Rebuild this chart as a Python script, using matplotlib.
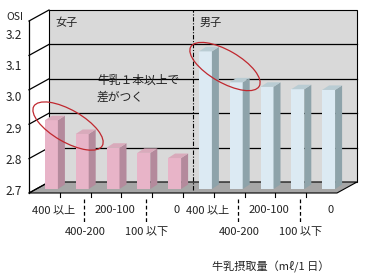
import matplotlib
matplotlib.use("Agg")
import matplotlib.pyplot as plt
from matplotlib.patches import Polygon, Ellipse
import matplotlib.transforms as transforms

plt.rcParams['font.family'] = ['Noto Sans CJK JP', 'DejaVu Sans']

# Données (OSI moyen par consommation de lait)
categories = ["400 以上", "400-200", "200-100", "100 以下", "0"]
groupes = ["女子", "男子"]
osi_filles = [2.90, 2.86, 2.82, 2.805, 2.79]
osi_garcons = [3.10, 3.01, 2.997, 2.99, 2.988]
y_ticks = [2.7, 2.8, 2.9, 3.0, 3.1, 3.2]
annotation = "牛乳１本以上で\n差がつく"
xlabel = "牛乳摂取量（mℓ/1 日）"

# Figure 366x280 px
W, H = 366, 280
fig = plt.figure(figsize=(W / 100, H / 100), dpi=100)

# axes = plan des barres (pixels: x 36..344, y 189..17)
ax = fig.add_axes([36 / W, (H - 189) / H, 308 / W, 172 / H])
n = len(categories) * 2
ax.set_xlim(-0.5, n - 0.5)
ax.set_ylim(y_ticks[0], y_ticks[-1])
ax.axis('off')

px_x = 308 / n                          # px par catégorie
px_y = 172 / (y_ticks[-1] - y_ticks[0])  # px par unité OSI


def dx(p):
    return p / px_x


def dy(p):
    return p / px_y


# décalages de profondeur (droite, haut) en pixels
BACK = (13, 7)
FRONT = (-7, -4)
DEPTH = (7, 4.5)

y0, y1 = y_ticks[0], y_ticks[-1]
xl, xr = -0.5, n - 0.5

# mur du fond
mur = Polygon([(xl + dx(BACK[0]), y0 + dy(BACK[1])), (xr + dx(BACK[0]), y0 + dy(BACK[1])),
               (xr + dx(BACK[0]), y1 + dy(BACK[1])), (xl + dx(BACK[0]), y1 + dy(BACK[1]))],
              closed=True, facecolor='#d9d9d9', edgecolor='black', lw=0.8, zorder=1,
              clip_on=False)
ax.add_patch(mur)
for v in y_ticks[1:-1]:
    ax.plot([xl + dx(BACK[0]), xr + dx(BACK[0])], [v + dy(BACK[1])] * 2,
            color='black', lw=0.9, zorder=1.2, clip_on=False)

# sol
sol = Polygon([(xl + dx(FRONT[0]), y0 + dy(FRONT[1])), (xr + dx(FRONT[0]), y0 + dy(FRONT[1])),
               (xr + dx(BACK[0]), y0 + dy(BACK[1])), (xl + dx(BACK[0]), y0 + dy(BACK[1]))],
              closed=True, facecolor='#a6a6a6', edgecolor='black', lw=0.8, zorder=1.5,
              clip_on=False)
ax.add_patch(sol)

# axe gauche + diagonales
ax.plot([xl + dx(FRONT[0])] * 2, [y0 + dy(FRONT[1]), y1 + dy(FRONT[1])],
        color='black', lw=0.9, zorder=2, clip_on=False)
for v in y_ticks:
    ax.plot([xl + dx(FRONT[0]), xl + dx(BACK[0])], [v + dy(FRONT[1]), v + dy(BACK[1])],
            color='black', lw=0.9, zorder=2, clip_on=False)

# petites graduations sur le bord avant
for b in range(1, n):
    xb = b - 0.5 + dx(FRONT[0])
    ax.plot([xb, xb], [y0 + dy(FRONT[1]), y0 + dy(FRONT[1] - 4)],
            color='black', lw=0.8, zorder=2, clip_on=False)

# séparateur filles / garçons
xs = len(categories) - 0.5 + dx(3)
ax.plot([xs, xs], [y0 - dy(1), y1 + dy(BACK[1])], color='black', lw=0.8,
        ls=(0, (4, 1.5, 1, 1.5)), zorder=2, clip_on=False)

# barres
valeurs = osi_filles + osi_garcons
couleurs = [('#e8b4c8', '#b48a9c', '#d9aabb')] * len(osi_filles) + \
           [('#dceaf3', '#8ea3aa', '#b9ccd3')] * len(osi_garcons)
w = 13 / px_x
pos = list(range(n))
ax.bar(pos, [v - y0 for v in valeurs], bottom=y0, width=w,
       color=[c[0] for c in couleurs], zorder=3, clip_on=False)
for x, v, c in zip(pos, valeurs, couleurs):
    xr_b = x + w / 2
    xl_b = x - w / 2
    cote = Polygon([(xr_b, y0), (xr_b, v), (xr_b + dx(DEPTH[0]), v + dy(DEPTH[1])),
                    (xr_b + dx(DEPTH[0]), y0 + dy(DEPTH[1]))],
                   closed=True, facecolor=c[1], edgecolor='none', zorder=3, clip_on=False)
    dessus = Polygon([(xl_b, v), (xr_b, v), (xr_b + dx(DEPTH[0]), v + dy(DEPTH[1])),
                      (xl_b + dx(DEPTH[0]), v + dy(DEPTH[1]))],
                     closed=True, facecolor=c[2], edgecolor='none', zorder=3, clip_on=False)
    ax.add_patch(cote)
    ax.add_patch(dessus)

# étiquettes des catégories (deux rangées, pour chaque groupe)
txt = '#222222'
for g in range(len(groupes)):
    for k, lab in enumerate(categories):
        i = g * len(categories) + k
        if k % 2 == 0:
            ax.text(i + dx(2), y0 - dy(21), lab, ha='center', va='center', fontsize=8,
                    color=txt, clip_on=False)
        else:
            ax.text(i + dx(3), y0 - dy(43), lab, ha='center', va='center', fontsize=8,
                    color=txt, clip_on=False)
            ax.plot([i + dx(2), i + dx(2)], [y0 - dy(10), y0 - dy(34)], color='black',
                    lw=0.9, ls=(0, (3, 2)), zorder=2, clip_on=False)

# textes sur le mur
ax.text(0.12, 3.183, groupes[0], ha='left', va='center', fontsize=8, color=txt)
ax.text(4.82, 3.183, groupes[1], ha='left', va='center', fontsize=8, color=txt)
ax.text(1.48, 2.992, annotation, ha='left', va='center', fontsize=8.5, color=txt,
        linespacing=1.45, zorder=4)

# ellipses rouges
for cx, cy in [(0.54, 2.883), (5.636, 3.056)]:
    tr = fig.dpi_scale_trans + transforms.ScaledTranslation(cx, cy, ax.transData)
    ax.add_patch(Ellipse((0, 0), width=0.79, height=0.32, angle=-30, transform=tr,
                         fill=False, edgecolor='#c0282f', lw=0.9, zorder=5, clip_on=False))

# graduations de l'axe Y
ax_lab = fig.add_axes([25 / W, (H - 190) / H, 1 / W, 156 / H])
ax_lab.set_ylim(y0, y1)
ax_lab.set_yticks(y_ticks)
ax_lab.set_yticklabels([f"{v:.1f}" for v in y_ticks], fontsize=8.5, color=txt)
ax_lab.tick_params(axis='y', length=0, pad=2)
ax_lab.set_xticks([])
ax_lab.patch.set_visible(False)
for s in ax_lab.spines.values():
    s.set_visible(False)

fig.text(6 / W, 1 - 17 / H, "OSI", ha='left', va='center', fontsize=7.5, color=txt)
fig.text(271 / W, 1 - 267 / H, xlabel, ha='center', va='center', fontsize=8, color=txt)

fig.savefig('out.png', dpi=100)
